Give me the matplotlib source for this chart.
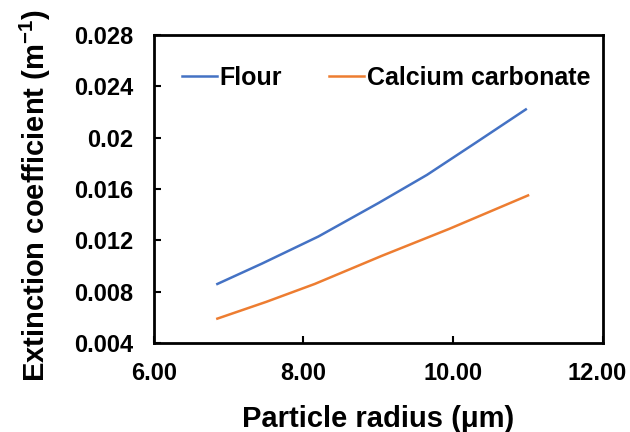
import matplotlib.pyplot as plt
from matplotlib.transforms import ScaledTranslation

plt.rcParams['font.family'] = 'Liberation Sans'
plt.rcParams['font.weight'] = 'bold'
plt.rcParams['mathtext.fontset'] = 'custom'
plt.rcParams['mathtext.rm'] = 'Liberation Sans:bold'
plt.rcParams['mathtext.bf'] = 'Liberation Sans:bold'

# data
radius_flour = [6.85, 7.45, 8.2, 9.0, 9.65, 10.3, 10.97]
ext_flour = [0.0086, 0.0102, 0.0123, 0.0149, 0.0171, 0.0196, 0.0222]
radius_caco3 = [6.85, 7.5, 8.15, 9.05, 9.95, 11.0]
ext_caco3 = [0.0059, 0.0072, 0.0086, 0.0108, 0.0129, 0.0155]

x_ticks = [6, 8, 10, 12]
y_ticks = [0.004, 0.008, 0.012, 0.016, 0.02, 0.024, 0.028]
y_tick_labels = ['0.004', '0.008', '0.012', '0.016', '0.02', '0.024', '0.028']

fig = plt.figure(figsize=(6.3, 4.32), dpi=100)
ax = fig.add_axes([0.244, 0.206, 0.713, 0.713])

ax.plot(radius_flour, ext_flour, color='#4472C4', lw=1.8, label='Flour')
ax.plot(radius_caco3, ext_caco3, color='#ED7D31', lw=1.8, label='Calcium carbonate')

ax.set_xlim(6, 12)
ax.set_ylim(0.004, 0.028)
ax.set_xticks(x_ticks)
ax.set_xticklabels([f'{v:.2f}' for v in x_ticks])
ax.set_yticks(y_ticks)
ax.set_yticklabels(y_tick_labels)
ax.tick_params(direction='in', length=5, width=1.5, labelsize=17)
ax.tick_params(axis='y', pad=15)
ax.tick_params(axis='x', pad=14)
for s in ax.spines.values():
    s.set_linewidth(2)

# last x label sits on the right edge, nudge it in a little
last = ax.get_xticklabels()[-1]
last.set_transform(last.get_transform() + ScaledTranslation(-6 / 100, 0, fig.dpi_scale_trans))

ax.set_xlabel('Particle radius (μm)', fontsize=21, fontweight='bold')
ax.set_ylabel('Extinction coefficient (m$^{-1}$)', fontsize=21, fontweight='bold')
ax.xaxis.set_label_coords(0.5, -0.2)
ax.yaxis.set_label_coords(-0.225, 0.477)

ax.legend(loc='center left', bbox_to_anchor=(0.062, 0.86), ncol=2, frameon=False,
          handlelength=1.4, handletextpad=0.1, columnspacing=1.9,
          borderaxespad=0, borderpad=0, prop={'weight': 'bold', 'size': 18})

fig.savefig('out.png', dpi=100)
